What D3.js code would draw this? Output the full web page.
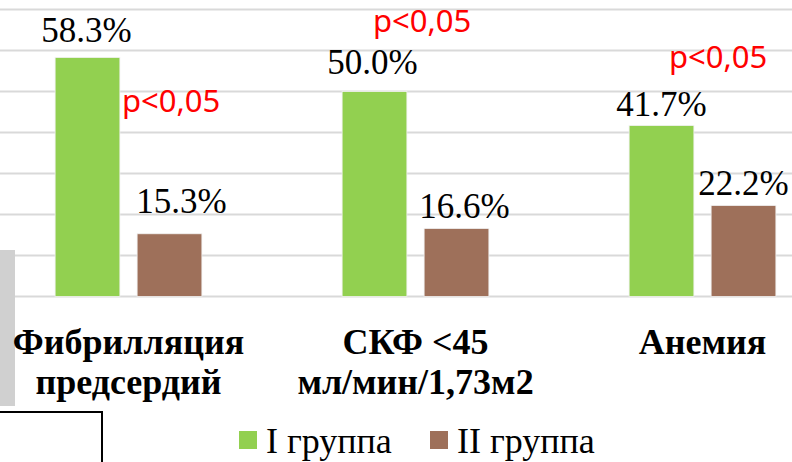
<!DOCTYPE html>
<html>
<head>
<meta charset="utf-8">
<script src="https://cdn.jsdelivr.net/npm/d3@7"></script>
<style>
  html, body { margin: 0; padding: 0; background: #fff; }
  svg { display: block; }
</style>
</head>
<body>
<svg id="chart" width="792" height="462"></svg>
<script>
// данные
const categories = ["Фибрилляция предсердий", "СКФ <45 мл/мин/1,73м2", "Анемия"];
const categoryLines = [["Фибрилляция", "предсердий"], ["СКФ <45", "мл/мин/1,73м2"], ["Анемия"]];
const series = ["I группа", "II группа"];
const group1 = [58.3, 50.0, 41.7];
const group2 = [15.3, 16.6, 22.2];
const yTicks = [0, 10, 20, 30, 40, 50, 60, 70];
const pText = "p<0,05";

const colors = ["#92d050", "#9e705a"];
const serif = "'Liberation Serif', 'Times New Roman', serif";

const svg = d3.select("#chart");
svg.append("rect").attr("width", 792).attr("height", 462).attr("fill", "#fff");

// шкалы (область графика немного выходит за края картинки)
const y = d3.scaleLinear().domain([0, 70]).range([296.5, 9.5]);
const x0 = d3.scaleBand().domain(categories).range([-15, 846]);
const x1 = d3.scaleBand().domain(series).range([0, x0.bandwidth()])
  .paddingInner(0.21).paddingOuter(0.855);

// сетка
svg.append("g")
  .selectAll("line")
  .data(yTicks)
  .join("line")
  .attr("x1", 0)
  .attr("x2", 792)
  .attr("y1", (d) => y(d))
  .attr("y2", (d) => y(d))
  .attr("stroke", "#d9d9d9")
  .attr("stroke-width", 2);

// серый блок слева (обрезанный фрагмент слайда)
svg.append("rect")
  .attr("x", 0).attr("y", 250).attr("width", 15).attr("height", 156)
  .attr("fill", "#d0d0d0");

// столбцы
const rows = categories.map((c, i) => ({ cat: c, vals: [group1[i], group2[i]] }));
const groups = svg.append("g")
  .selectAll("g")
  .data(rows)
  .join("g")
  .attr("transform", (d) => `translate(${x0(d.cat)},0)`);

groups.selectAll("rect")
  .data((d) => d.vals.map((v, j) => ({ s: series[j], v, j })))
  .join("rect")
  .attr("x", (d) => x1(d.s))
  .attr("width", x1.bandwidth())
  .attr("y", (d) => y(d.v))
  .attr("height", (d) => y(0) - y(d.v))
  .attr("fill", (d) => colors[d.j])
  .attr("stroke", "#f2f2f2")
  .attr("stroke-width", 0.8);

// подписи значений (небольшие сдвиги как на слайде)
const labelNudge = { "0-0": [-1, -5], "0-1": [12, -11], "1-0": [-2, -8], "1-1": [8, 0] };
groups.selectAll("text.val")
  .data((d, i) => d.vals.map((v, j) => ({ s: series[j], v, key: `${i}-${j}` })))
  .join("text")
  .attr("class", "val")
  .attr("x", (d) => x1(d.s) + x1.bandwidth() / 2 + (labelNudge[d.key] || [0, 0])[0])
  .attr("y", (d) => y(d.v) - 10 + (labelNudge[d.key] || [0, 0])[1])
  .attr("text-anchor", "middle")
  .attr("font-family", serif)
  .attr("font-size", 35)
  .attr("fill", "#000")
  .text((d) => d.v.toFixed(1) + "%");

// p<0,05
const pNotes = [
  { cat: categories[0], dx: 137, v: 45.1 },
  { cat: categories[1], dx: 101, v: 64.4 },
  { cat: categories[2], dx: 110, v: 55.8 },
];
svg.append("g")
  .selectAll("text")
  .data(pNotes)
  .join("text")
  .attr("x", (d) => x0(d.cat) + d.dx)
  .attr("y", (d) => y(d.v))
  .attr("font-family", "'Noto Sans', 'Open Sans', sans-serif")
  .attr("font-size", 31)
  .attr("fill", "#ff0000")
  .text(pText);

// подписи категорий
const catText = svg.append("g")
  .selectAll("text")
  .data(categories)
  .join("text")
  .attr("x", (d) => x0(d) + x0.bandwidth() / 2)
  .attr("y", 354)
  .attr("text-anchor", "middle")
  .attr("font-family", serif)
  .attr("font-weight", "bold")
  .attr("font-size", 36)
  .attr("fill", "#000");
catText.selectAll("tspan")
  .data((d, i) => categoryLines[i])
  .join("tspan")
  .attr("x", function () { return this.parentNode.getAttribute("x"); })
  .attr("dy", (d, k) => (k === 0 ? 0 : 40))
  .text((d) => d);

// рамка снизу слева
svg.append("path")
  .attr("d", "M-5,412H102V470")
  .attr("fill", "none")
  .attr("stroke", "#000")
  .attr("stroke-width", 2);

// легенда
const legendX = [239, 430];
const legend = svg.append("g")
  .selectAll("g")
  .data(series)
  .join("g")
  .attr("transform", (d, i) => `translate(${legendX[i]},431)`);
legend.append("rect")
  .attr("width", 18)
  .attr("height", 18)
  .attr("fill", (d, i) => colors[i]);
legend.append("text")
  .attr("x", 27)
  .attr("y", 22)
  .attr("font-family", serif)
  .attr("font-size", 36)
  .attr("fill", "#000")
  .text((d) => d);
</script>
</body>
</html>
